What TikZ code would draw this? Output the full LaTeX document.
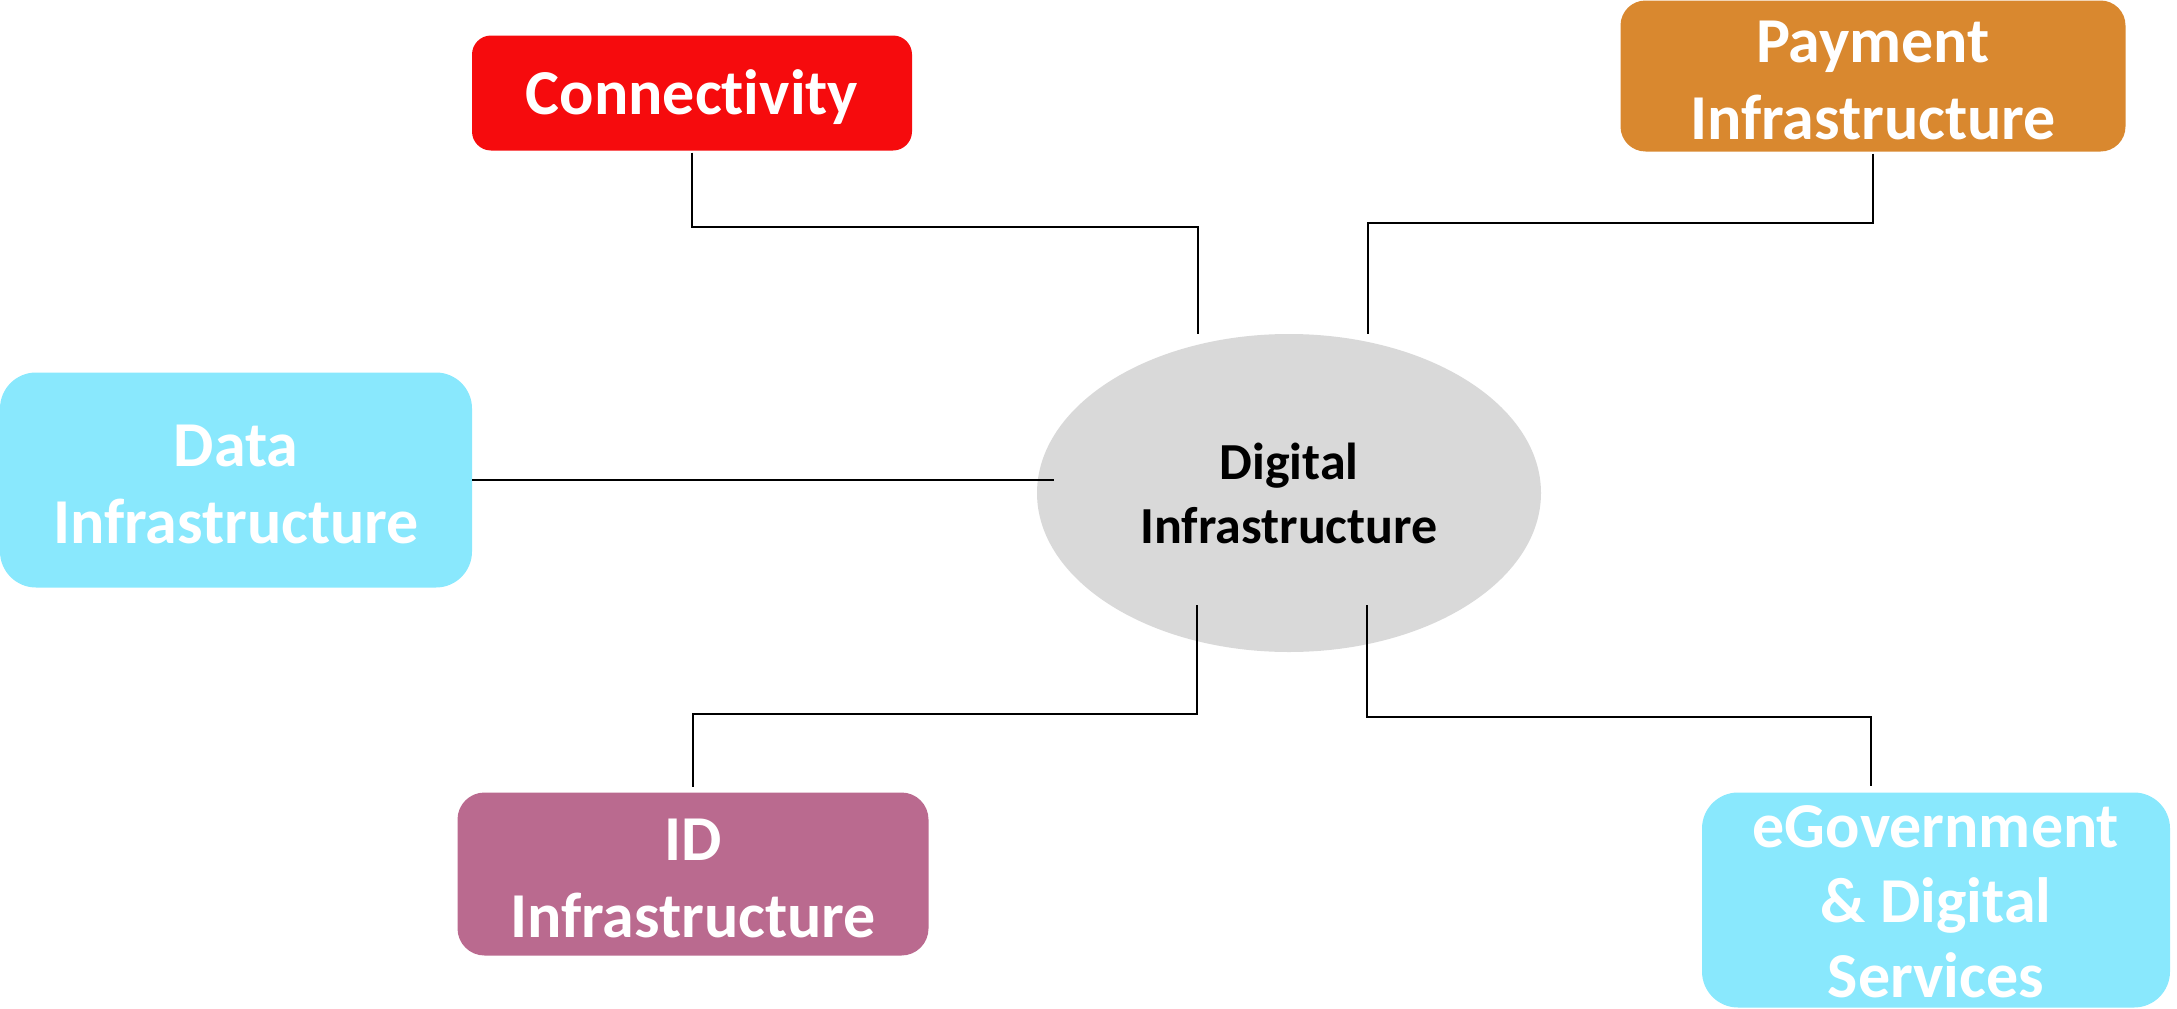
\documentclass[tikz,border=0pt]{standalone}
\usepackage{fontspec}
\setmainfont{Carlito}[Ligatures=NoCommon]
\usetikzlibrary{shapes.geometric}
\definecolor{cred}{RGB}{246,11,13}
\definecolor{corange}{RGB}{217,136,47}
\definecolor{ccyan}{RGB}{137,232,253}
\definecolor{cpurple}{RGB}{186,106,143}
\definecolor{cgray}{RGB}{217,217,217}
\begin{document}
\begin{tikzpicture}[x=1pt,y=-1pt,
  box/.style={rectangle, rounded corners=#1pt, inner sep=0pt},
  lbl/.style={text=white, inner sep=0pt, yshift=-4pt,
    font=\fontsize{64}{77}\selectfont\bfseries, align=center},
  hub/.style={ellipse, fill=cgray, inner sep=0pt, text=black,
    font=\fontsize{52}{64}\selectfont\bfseries, align=center},
  link/.style={draw=black, line width=1.8pt}]
\useasboundingbox (0,0) rectangle (2177,1009);

\node[box=19, fill=cred, minimum width=440pt, minimum height=115pt,
  label={[lbl]center:Connectivity}] (conn) at (692,93) {};
\node[box=25, fill=corange, minimum width=505pt, minimum height=151pt,
  label={[lbl]center:{Payment\\Infrastructure}}] (pay) at (1873,76) {};
\node[box=36, fill=ccyan, minimum width=472pt, minimum height=215pt,
  label={[lbl]center:{Data\\Infrastructure}}] (data) at (236,480) {};
\node[box=27, fill=cpurple, minimum width=471pt, minimum height=163pt,
  label={[lbl]center:{ID\\Infrastructure}}] (id) at (693,874) {};
\node[box=36, fill=ccyan, minimum width=468pt, minimum height=215pt,
  label={[lbl, yshift=2pt, font=\fontsize{64}{75}\selectfont\bfseries]center:{eGovernment\\\& Digital\\Services}}] (egov) at (1936,900) {};
\node[hub, minimum width=504pt, minimum height=318pt] (dig) at (1289,493) {Digital\\Infrastructure};

\coordinate (ctl) at (1198,334);
\coordinate (ctr) at (1368,334);
\coordinate (cl) at (1054,480);
\coordinate (cbl) at (1197,605);
\coordinate (cbr) at (1367,605);
\coordinate (eg) at (1871,786);
\coordinate (ia) at (693,787);

\draw[link, shorten <=2pt] (conn.south) -- (conn.south |- 0,227) -| (ctl);
\draw[link, shorten <=2pt] (pay.south) -- (pay.south |- 0,223) -| (ctr);
\draw[link, line width=2.4pt] (data.east) -- (cl);
\draw[link] (cbl) -- (cbl |- 0,714) -| (ia);
\draw[link] (cbr) -- (cbr |- 0,717) -| (eg);
\end{tikzpicture}
\end{document}
